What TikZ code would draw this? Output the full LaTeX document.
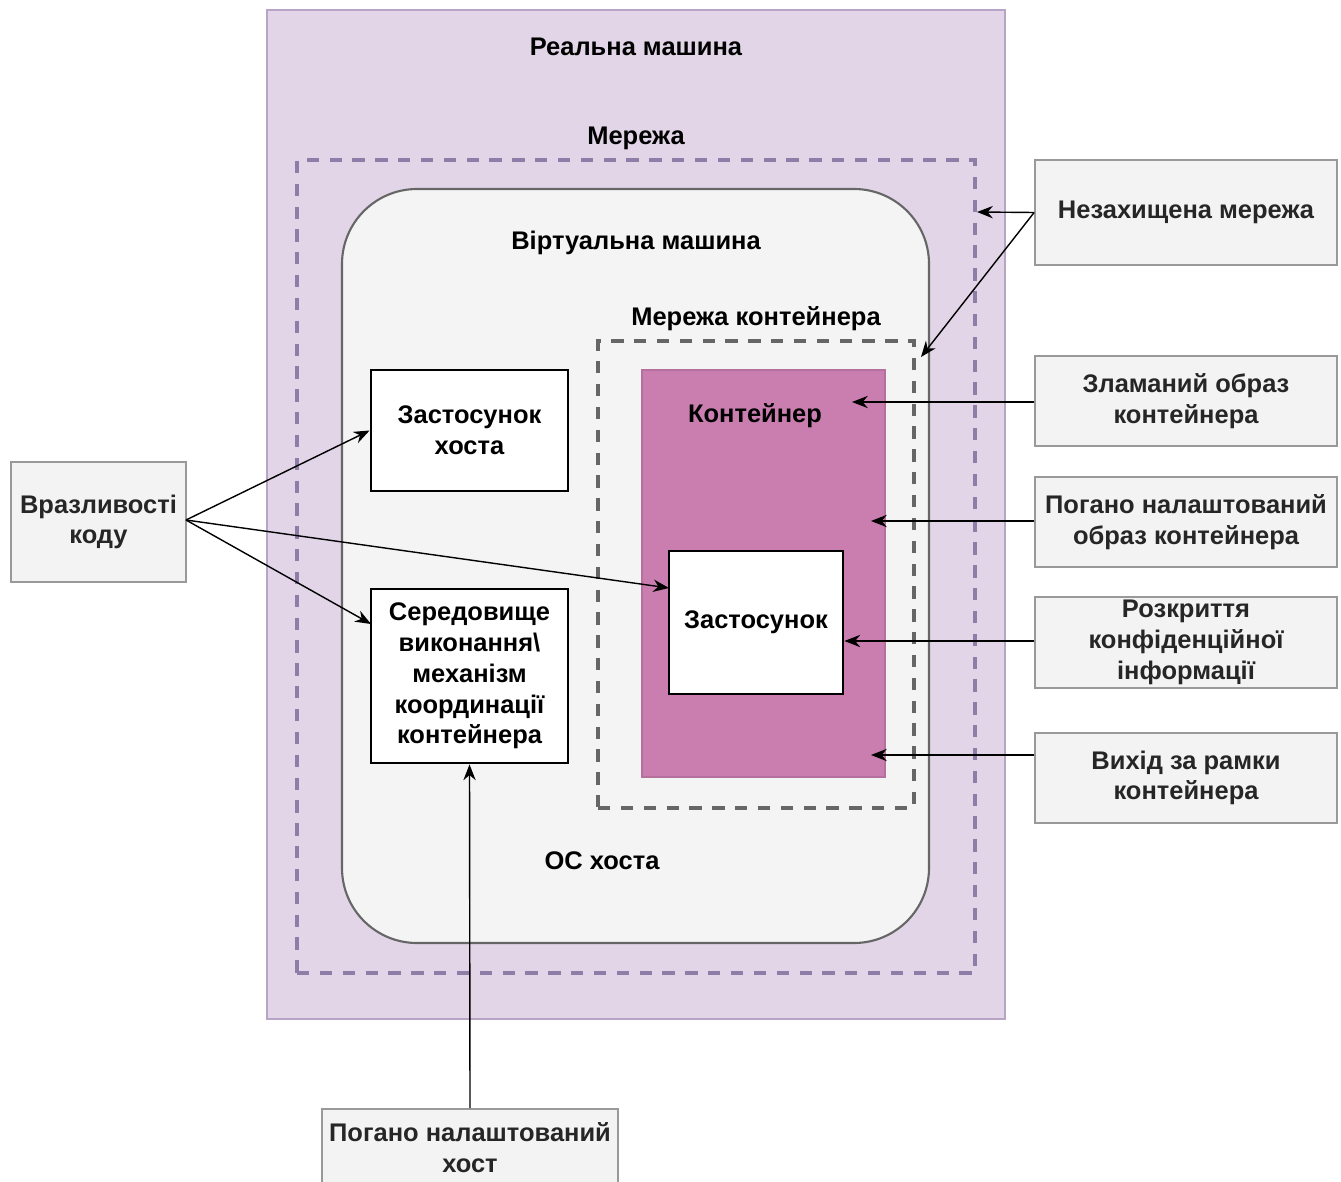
\documentclass[tikz,border=0pt]{standalone}
\usepackage{fontspec}
\setmainfont{Liberation Sans}
\usetikzlibrary{arrows.meta}
\definecolor{machinefill}{HTML}{E1D5E7}
\definecolor{machineline}{HTML}{B7A4C7}
\definecolor{netline}{HTML}{8E7DA6}
\definecolor{vmfill}{HTML}{F4F4F4}
\definecolor{vmline}{HTML}{666666}
\definecolor{ctfill}{HTML}{C97EAF}
\definecolor{notefill}{HTML}{F3F3F3}
\definecolor{noteline}{HTML}{999999}
\begin{document}
\begin{tikzpicture}[x=0.02cm,y=-0.02cm,
  every node/.style={font=\fontsize{14.5}{17.5}\selectfont\bfseries, align=center, inner sep=0pt},
  label/.style={text=black},
  note/.style={draw=noteline, fill=notefill, line width=1pt, rectangle, text=black!85},
  appbox/.style={draw=black, fill=white, line width=1.6pt, rectangle},
  dashbox/.style={rectangle, line width=1.8pt, dash pattern=on 7pt off 6pt},
  arr/.style={draw=black, line width=0.8pt, -{Stealth[length=9pt,width=7pt]}}
]
\useasboundingbox (0,0) rectangle (1341,1182);
\fill[white] (0,0) rectangle (1341,1182);

% real machine
\node[rectangle, draw=machineline, fill=machinefill, line width=1pt,
      minimum width=738*0.02cm, minimum height=1009*0.02cm] (machine) at (636,514.5) {};
\node[label] (machinelbl) at (636,47) {Реальна машина};

% network
\node[dashbox, draw=netline, minimum width=678*0.02cm, minimum height=813*0.02cm] (net) at (636,566.5) {};
\node[label] (netlbl) at (636,138) {Мережа};

% virtual machine / host OS
\node[rectangle, rounded corners=1.5cm, draw=vmline, fill=vmfill, line width=1.2pt,
      minimum width=587*0.02cm, minimum height=754*0.02cm] (vm) at (635.5,566) {};
\node[label] (vmlbl) at (636,243) {Віртуальна машина};
\node[label] (oslbl) at (602,861) {ОС хоста};

% container network
\node[dashbox, draw=vmline, minimum width=316*0.02cm, minimum height=467*0.02cm] (ctnet) at (756,574.5) {};
\node[label] (ctnetlbl) at (756,319) {Мережа контейнера};

% container
\node[rectangle, fill=ctfill, draw=ctfill!90!black, line width=0.6pt,
      minimum width=243*0.02cm, minimum height=407*0.02cm] (ct) at (763.5,573.5) {};
\node[label] (ctlbl) at (755,416) {Контейнер};

% applications
\node[appbox, minimum width=174*0.02cm, minimum height=143*0.02cm] (app) at (756,622.5) {Застосунок};
\node[appbox, minimum width=197*0.02cm, minimum height=121*0.02cm] (hostapp) at (469.5,430.5) {Застосунок\\хоста};
\node[appbox, minimum width=197*0.02cm, minimum height=174*0.02cm] (runtime) at (469.5,676)
  {Середовище\\виконання\textbackslash\\механізм\\координації\\контейнера};

% threat notes
\node[note, minimum width=302*0.02cm, minimum height=105*0.02cm] (unsec) at (1186,212.5) {Незахищена мережа};
\node[note, minimum width=302*0.02cm, minimum height=90*0.02cm] (broken) at (1186,401) {Зламаний образ\\контейнера};
\node[note, minimum width=302*0.02cm, minimum height=90*0.02cm] (badimg) at (1186,522) {Погано налаштований\\образ контейнера};
\node[note, minimum width=302*0.02cm, minimum height=91*0.02cm] (leak) at (1186,642.5) {Розкриття\\конфіденційної\\інформації};
\node[note, minimum width=302*0.02cm, minimum height=90*0.02cm] (escape) at (1186,778) {Вихід за рамки\\контейнера};
\node[note, minimum width=175*0.02cm, minimum height=120*0.02cm] (vuln) at (98.5,522) {Вразливості\\коду};
\node[note, minimum width=296*0.02cm, minimum height=78*0.02cm] (badhost) at (470,1148) {Погано налаштований\\хост};

% arrow targets
\coordinate (netpt) at (977,212);
\coordinate (ctnetpt) at (921,357);
\coordinate (brokenpt) at (852,402);
\coordinate (badimgpt) at (871,521);
\coordinate (escapept) at (871,755);
\coordinate (apppt) at (669,588);
\coordinate (runtimept) at (371,624);
\coordinate (vulnsrc) at (186,520);

\draw[arr] (unsec.west) -- (netpt);
\draw[arr] (unsec.west) -- (ctnetpt);
\draw[arr] (broken.west |- brokenpt) -- (brokenpt);
\draw[arr] (badimg.west |- badimgpt) -- (badimgpt);
\draw[arr] (leak.west |- 0,641) -- (app.east |- 0,641);
\draw[arr] (escape.west |- escapept) -- (escapept);
\draw[arr] (vulnsrc) -- (hostapp.west);
\draw[arr] (vulnsrc) -- (apppt);
\draw[arr] (vulnsrc) -- (runtimept);
\draw[arr] (badhost.north) -- (runtime.south);
\end{tikzpicture}
\end{document}
